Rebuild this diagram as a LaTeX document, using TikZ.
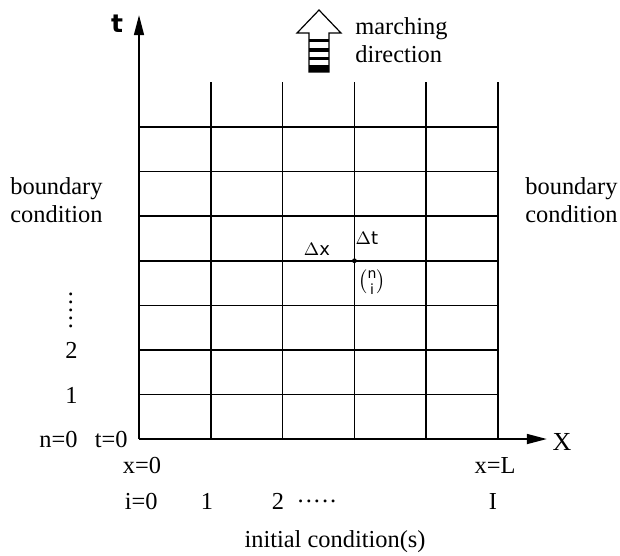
\documentclass[tikz,border=0pt]{standalone}
\usepackage{amsmath}
\usepackage{fontspec}
\setmainfont{Liberation Serif}
\setsansfont{DejaVu Sans}
\usetikzlibrary{arrows.meta}

\begin{document}
\begin{tikzpicture}[x=35.9pt,y=22.285pt,
  gridline/.style={line width=0.8pt},
  axis/.style={line width=0.8pt,-{Triangle[length=10pt,width=5pt]}},
  lbl/.style={font=\fontsize{12.2}{14}\selectfont,inner sep=0pt},
  sflbl/.style={font=\fontsize{9}{11}\sffamily,inner sep=0pt}]
  \useasboundingbox (-1.936,-2.603) rectangle (6.699,9.850);
  % mesh
  \foreach \i in {1,...,5}
    \draw[gridline] (\i,0) -- (\i,8);
  \foreach \j in {1,...,7}
    \draw[gridline] (0,\j) -- (5,\j);
  % axes
  \coordinate (O) at (0,0);
  \coordinate (tend) at (0,9.51);
  \coordinate (xend) at (5.68,0);
  \draw[axis] (O) -- (tend);
  \draw[axis] (O) -- (xend);
  \node[font=\fontsize{12.5}{14}\sffamily\bfseries,inner sep=0pt] (tlab) at (-0.306,9.31) {t};
  \node[font=\fontsize{13}{14}\selectfont,inner sep=0pt] (xlab) at (5.891,-0.07) {X};
  % marching arrow
  \begin{scope}[shift={(2.507,9.625)},x=0.5pt,y=0.5pt]
    \draw[line width=0.6pt] (0,0) -- (22,-23) -- (10,-23) -- (10,-62)
      -- (-10,-62) -- (-10,-23) -- (-22,-23) -- cycle;
    \foreach \a/\b in {29/32,38/42,47/50,55/62}
      \fill (-10,-\a) rectangle (10,-\b);
  \end{scope}
  \node[lbl,anchor=west,align=left] (march) at (3.008,8.94) {marching\\direction};
  % boundaries
  \node[lbl,anchor=west,align=left] (bcleft) at (-1.797,5.35) {boundary\\condition};
  \node[lbl,anchor=west,align=left] (bcright) at (5.376,5.35) {boundary\\condition};
  % grid point
  \fill (3,4) circle (1.2pt);
  \node[sflbl] (dx) at (2.479,4.263) {$\Delta$x};
  \node[sflbl] (dt) at (3.175,4.51) {$\Delta$t};
  \node[font=\fontsize{10}{12}\sffamily,inner sep=0pt] (nidx) at (3.245,3.52)
    {$\binom{\text{\sffamily n}}{\text{\sffamily i}}$};
  % time levels
  \node[lbl,anchor=base east] (n0) at (-0.85,-0.18) {n=0};
  \node[lbl,anchor=base east] (n1) at (-0.85,0.808) {1};
  \node[lbl,anchor=base east] (n2) at (-0.85,1.817) {2};
  \node[lbl,rotate=90] (ndots) at (-0.905,2.883) {·····};
  \node[lbl,anchor=base east] (t0) at (-0.153,-0.18) {t=0};
  % space levels
  \node[lbl,anchor=base] (x0) at (0.042,-0.763) {x=0};
  \node[lbl,anchor=base] (xL) at (4.958,-0.763) {x=L};
  \node[lbl,anchor=base] (i0) at (0.03,-1.571) {i=0};
  \node[lbl,anchor=base] (i1) at (0.947,-1.571) {1};
  \node[lbl,anchor=base] (i2) at (1.936,-1.571) {2};
  \node[lbl,anchor=base] (idots) at (2.479,-1.571) {·····};
  \node[lbl,anchor=base] (iI) at (4.93,-1.571) {I};
  \node[lbl,anchor=base] (init) at (2.73,-2.423) {initial condition(s)};
\end{tikzpicture}
\end{document}
